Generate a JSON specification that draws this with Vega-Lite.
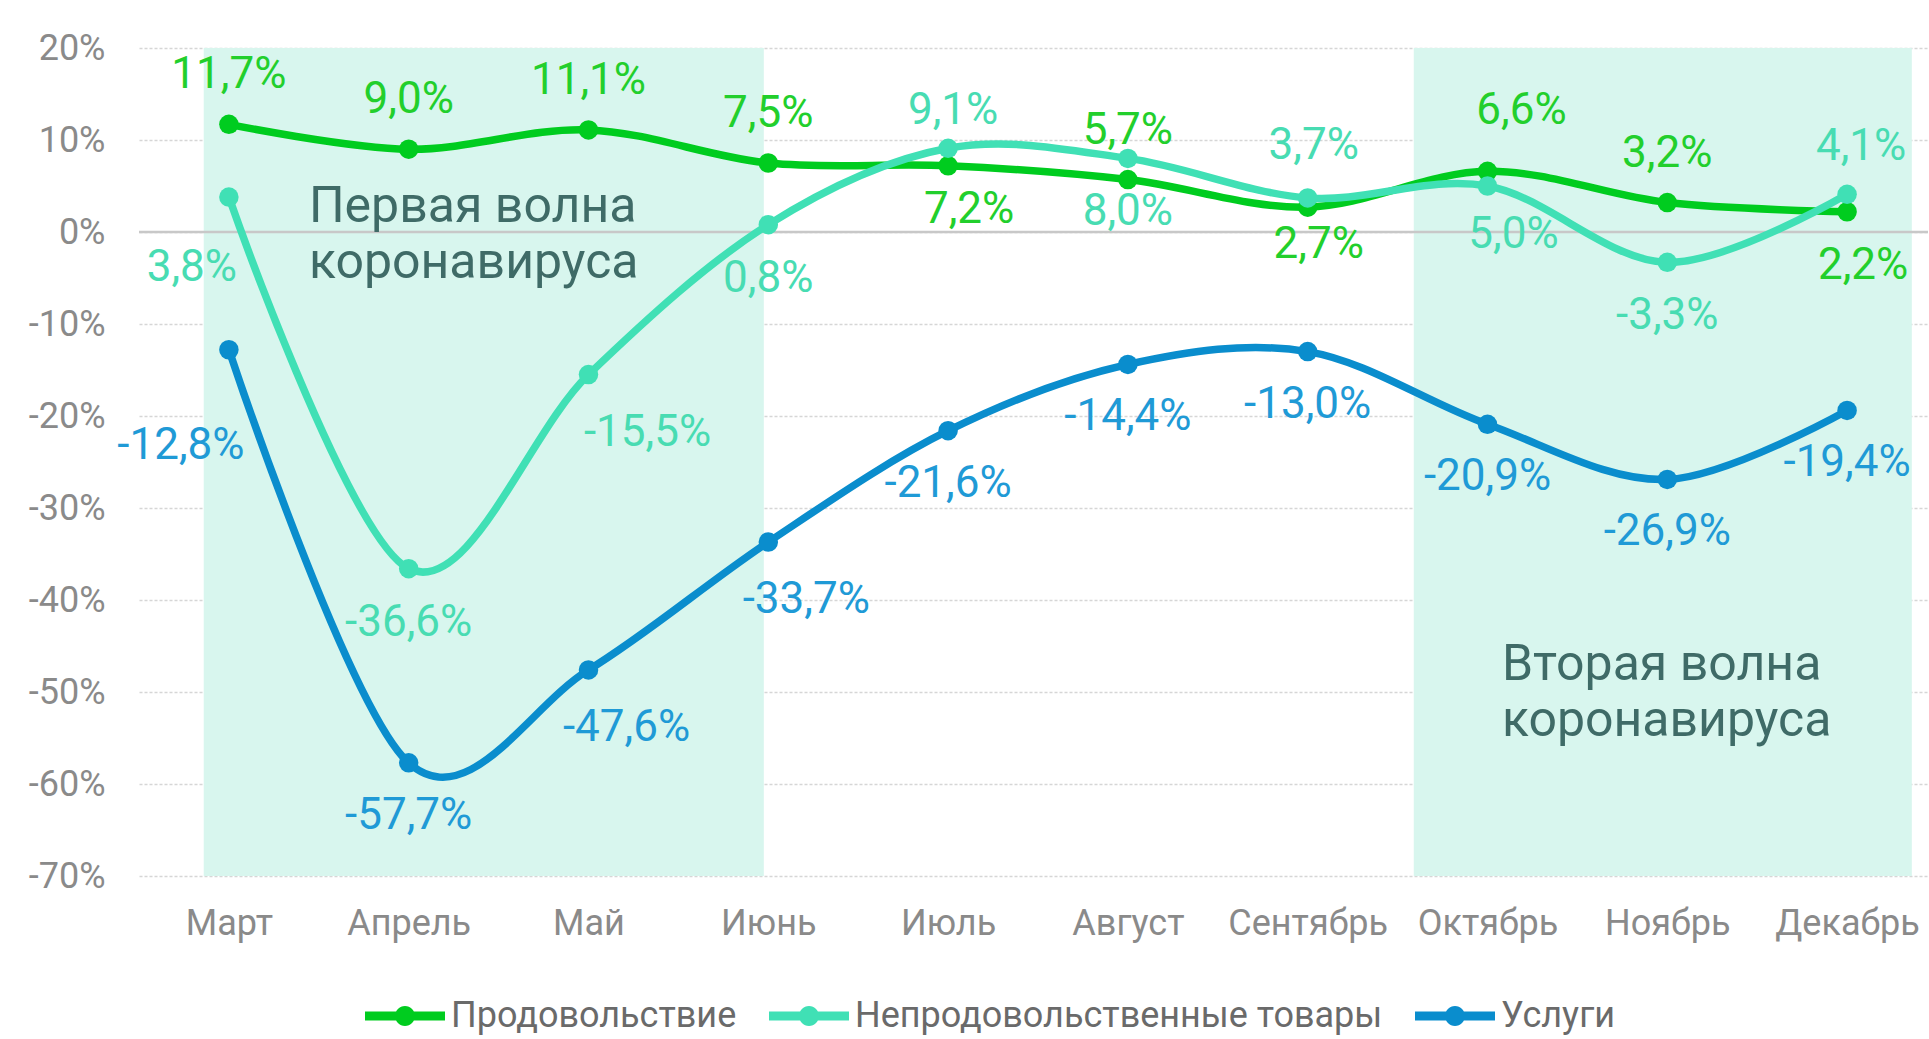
{
  "$schema": "https://vega.github.io/schema/vega-lite/v6.json",
  "autosize": {"type": "none"},
  "width": 1789,
  "height": 828,
  "padding": {"left": 139, "top": 48, "right": 1, "bottom": 163},
  "background": "#ffffff",
  "config": {
    "font": "Roboto",
    "view": {"stroke": null},
    "axis": {"labelFont": "Roboto", "labelColor": "#8a8a8a", "labelFontSize": 36, "ticks": false, "domain": false, "title": null}
  },
  "datasets": {
    "series": [
      {"month": "Март", "i": 0, "s": "Продовольствие", "v": 11.7},
      {"month": "Апрель", "i": 1, "s": "Продовольствие", "v": 9.0},
      {"month": "Май", "i": 2, "s": "Продовольствие", "v": 11.1},
      {"month": "Июнь", "i": 3, "s": "Продовольствие", "v": 7.5},
      {"month": "Июль", "i": 4, "s": "Продовольствие", "v": 7.2},
      {"month": "Август", "i": 5, "s": "Продовольствие", "v": 5.7},
      {"month": "Сентябрь", "i": 6, "s": "Продовольствие", "v": 2.7},
      {"month": "Октябрь", "i": 7, "s": "Продовольствие", "v": 6.6},
      {"month": "Ноябрь", "i": 8, "s": "Продовольствие", "v": 3.2},
      {"month": "Декабрь", "i": 9, "s": "Продовольствие", "v": 2.2},
      {"month": "Март", "i": 0, "s": "Непродовольственные товары", "v": 3.8},
      {"month": "Апрель", "i": 1, "s": "Непродовольственные товары", "v": -36.6},
      {"month": "Май", "i": 2, "s": "Непродовольственные товары", "v": -15.5},
      {"month": "Июнь", "i": 3, "s": "Непродовольственные товары", "v": 0.8},
      {"month": "Июль", "i": 4, "s": "Непродовольственные товары", "v": 9.1},
      {"month": "Август", "i": 5, "s": "Непродовольственные товары", "v": 8.0},
      {"month": "Сентябрь", "i": 6, "s": "Непродовольственные товары", "v": 3.7},
      {"month": "Октябрь", "i": 7, "s": "Непродовольственные товары", "v": 5.0},
      {"month": "Ноябрь", "i": 8, "s": "Непродовольственные товары", "v": -3.3},
      {"month": "Декабрь", "i": 9, "s": "Непродовольственные товары", "v": 4.1},
      {"month": "Март", "i": 0, "s": "Услуги", "v": -12.8},
      {"month": "Апрель", "i": 1, "s": "Услуги", "v": -57.7},
      {"month": "Май", "i": 2, "s": "Услуги", "v": -47.6},
      {"month": "Июнь", "i": 3, "s": "Услуги", "v": -33.7},
      {"month": "Июль", "i": 4, "s": "Услуги", "v": -21.6},
      {"month": "Август", "i": 5, "s": "Услуги", "v": -14.4},
      {"month": "Сентябрь", "i": 6, "s": "Услуги", "v": -13.0},
      {"month": "Октябрь", "i": 7, "s": "Услуги", "v": -20.9},
      {"month": "Ноябрь", "i": 8, "s": "Услуги", "v": -26.9},
      {"month": "Декабрь", "i": 9, "s": "Услуги", "v": -19.4}
    ],
    "bands": [
      {"x0": -0.14, "x1": 2.975},
      {"x0": 6.59, "x1": 9.36}
    ],
    "notes": [
      {"t": "Первая волна", "i": 0.445, "v": 2.67},
      {"t": "коронавируса", "i": 0.445, "v": -3.34},
      {"t": "Вторая волна", "i": 7.08, "v": -47.06},
      {"t": "коронавируса", "i": 7.08, "v": -53.1}
    ]
  },
  "resolve": {"legend": {"color": "independent"}},
  "layer": [
    {
      "data": {"name": "bands"},
      "mark": {"type": "rect", "fill": "#d8f6ee"},
      "encoding": {
        "x": {"field": "x0", "type": "quantitative", "scale": {"domain": [-0.5, 9.45], "nice": false, "zero": false},
              "axis": {"values": [0,1,2,3,4,5,6,7,8,9], "grid": false, "labelPadding": 30,
                       "labelExpr": "['Март','Апрель','Май','Июнь','Июль','Август','Сентябрь','Октябрь','Ноябрь','Декабрь'][datum.value]"}},
        "x2": {"field": "x1"},
        "y": {"datum": 20, "type": "quantitative", "scale": {"domain": [-70, 20], "nice": false},
              "axis": {"values": [-70,-60,-50,-40,-30,-20,-10,0,10,20], "labelExpr": "datum.value + '%'", "labelPadding": 34,
                       "grid": true, "gridColor": "#d6d6d6", "gridDash": [3, 2], "gridWidth": 1.5}},
        "y2": {"datum": -70}
      }
    },
    {
      "data": {"values": [{"z": 0}]},
      "mark": {"type": "rule", "stroke": "#c8c8c8", "strokeWidth": 2.5},
      "encoding": {"y": {"field": "z", "type": "quantitative"}}
    },
    {
      "data": {"name": "notes"},
      "mark": {"type": "text", "align": "left", "baseline": "middle", "fontSize": 50, "fill": "#3f6b67"},
      "encoding": {
        "x": {"field": "i", "type": "quantitative"},
        "y": {"field": "v", "type": "quantitative"},
        "text": {"field": "t"}
      }
    },
    {
      "data": {"name": "series"},
      "mark": {"type": "line", "interpolate": "cardinal", "strokeWidth": 7.5},
      "encoding": {
        "x": {"field": "i", "type": "quantitative"},
        "y": {"field": "v", "type": "quantitative"},
        "color": {"field": "s", "type": "nominal",
                  "scale": {"domain": ["Продовольствие", "Непродовольственные товары", "Услуги"], "range": ["#00cc1f", "#40e0b5", "#0a8dcd"]},
                  "legend": null},
        "order": {"field": "i"}
      }
    },
    {
      "data": {"name": "series"},
      "mark": {"type": "point", "shape": "circle", "filled": true, "size": 380, "opacity": 1},
      "encoding": {
        "x": {"field": "i", "type": "quantitative"},
        "y": {"field": "v", "type": "quantitative"},
        "color": {"field": "s", "type": "nominal",
                  "legend": {"orient": "none", "legendX": 226, "legendY": 928, "direction": "horizontal", "title": null,
                             "symbolType": "M-1,-0.11L1,-0.11L1,0.11L-1,0.11Z M0.25,0A0.25,0.25 0 1,1 -0.25,0A0.25,0.25 0 1,1 0.25,0Z",
                             "symbolSize": 6400, "symbolStrokeWidth": 0, "symbolOpacity": 1,
                             "labelFontSize": 36, "labelColor": "#6a6a6a", "labelOffset": 6, "columnPadding": 32, "padding": 0, "labelLimit": 800}}
      }
    },
    {
      "data": {"name": "series"},
      "transform": [{"calculate": "replace(replace(format(datum.v, '.1f'), '.', ','), '\u2212', '-') + '%'", "as": "lab"}],
      "encoding": {
        "x": {"field": "i", "type": "quantitative"},
        "y": {"field": "v", "type": "quantitative"},
        "text": {"field": "lab"},
        "color": {"field": "s", "type": "nominal", "legend": null,
                  "scale": {"domain": ["Продовольствие", "Непродовольственные товары", "Услуги"], "range": ["#00cc1f", "#40e0b5", "#0a8dcd"]}}
      },
      "layer": [
        {"transform": [{"filter": "datum.s === 'Продовольствие' && indexof([0,1,2,3,5,8], datum.i) >= 0"}],
         "mark": {"type": "text", "fontSize": 44, "align": "center", "baseline": "middle", "dy": -49, "fill": "#22cf2c"}},
        {"transform": [{"filter": "datum.s === 'Продовольствие' && datum.i === 7"}],
         "mark": {"type": "text", "fontSize": 44, "align": "center", "baseline": "middle", "dx": 34, "dy": -60, "fill": "#22cf2c"}},
        {"transform": [{"filter": "datum.s === 'Продовольствие' && datum.i === 4"}],
         "mark": {"type": "text", "fontSize": 44, "align": "center", "baseline": "middle", "dx": 21, "dy": 44, "fill": "#22cf2c"}},
        {"transform": [{"filter": "datum.s === 'Продовольствие' && datum.i === 6"}],
         "mark": {"type": "text", "fontSize": 44, "align": "center", "baseline": "middle", "dx": 11, "dy": 38, "fill": "#22cf2c"}},
        {"transform": [{"filter": "datum.s === 'Продовольствие' && datum.i === 9"}],
         "mark": {"type": "text", "fontSize": 44, "align": "center", "baseline": "middle", "dx": 16, "dy": 54, "fill": "#22cf2c"}},
        {"transform": [{"filter": "datum.s === 'Непродовольственные товары' && indexof([1,3,5,8], datum.i) >= 0"}],
         "mark": {"type": "text", "fontSize": 44, "align": "center", "baseline": "middle", "dy": 54, "fill": "#48dcb2"}},
        {"transform": [{"filter": "datum.s === 'Непродовольственные товары' && datum.i === 0"}],
         "mark": {"type": "text", "fontSize": 44, "align": "center", "baseline": "middle", "dx": -37, "dy": 71, "fill": "#48dcb2"}},
        {"transform": [{"filter": "datum.s === 'Непродовольственные товары' && datum.i === 2"}],
         "mark": {"type": "text", "fontSize": 44, "align": "center", "baseline": "middle", "dx": 59, "dy": 58, "fill": "#48dcb2"}},
        {"transform": [{"filter": "datum.s === 'Непродовольственные товары' && datum.i === 4"}],
         "mark": {"type": "text", "fontSize": 44, "align": "center", "baseline": "middle", "dx": 5, "dy": -37, "fill": "#48dcb2"}},
        {"transform": [{"filter": "datum.s === 'Непродовольственные товары' && datum.i === 6"}],
         "mark": {"type": "text", "fontSize": 44, "align": "center", "baseline": "middle", "dx": 6, "dy": -52, "fill": "#48dcb2"}},
        {"transform": [{"filter": "datum.s === 'Непродовольственные товары' && datum.i === 7"}],
         "mark": {"type": "text", "fontSize": 44, "align": "center", "baseline": "middle", "dx": 26, "dy": 49, "fill": "#48dcb2"}},
        {"transform": [{"filter": "datum.s === 'Непродовольственные товары' && datum.i === 9"}],
         "mark": {"type": "text", "fontSize": 44, "align": "center", "baseline": "middle", "dx": 14, "dy": -47, "fill": "#48dcb2"}},
        {"transform": [{"filter": "datum.s === 'Услуги' && indexof([1,4,5,6,7,8,9], datum.i) >= 0"}],
         "mark": {"type": "text", "fontSize": 44, "align": "center", "baseline": "middle", "dy": 53, "fill": "#1f9ad6"}},
        {"transform": [{"filter": "datum.s === 'Услуги' && datum.i === 0"}],
         "mark": {"type": "text", "fontSize": 44, "align": "center", "baseline": "middle", "dx": -48, "dy": 96, "fill": "#1f9ad6"}},
        {"transform": [{"filter": "datum.s === 'Услуги' && indexof([2,3], datum.i) >= 0"}],
         "mark": {"type": "text", "fontSize": 44, "align": "center", "baseline": "middle", "dx": 38, "dy": 58, "fill": "#1f9ad6"}}
      ]
    }
  ]
}
